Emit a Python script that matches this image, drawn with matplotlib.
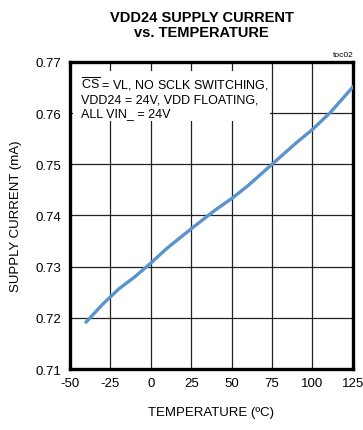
import matplotlib
matplotlib.use("Agg")
import matplotlib.pyplot as plt
from matplotlib.patches import Rectangle

plt.rcParams['font.family'] = ['Liberation Sans', 'DejaVu Sans']
plt.rcParams['mathtext.fontset'] = 'custom'
plt.rcParams['mathtext.rm'] = 'Liberation Sans'

temperature = [-40, -30, -20, -10, 0, 10, 25, 40, 50, 60, 75, 90, 100, 111, 125]
current = [0.7192, 0.7226, 0.7256, 0.7280, 0.7307, 0.7336, 0.7374, 0.7411, 0.7433, 0.7458, 0.7500, 0.7542, 0.7568, 0.7601, 0.7651]

x_ticks = [-50, -25, 0, 25, 50, 75, 100, 125]
y_ticks = [0.71, 0.72, 0.73, 0.74, 0.75, 0.76, 0.77]

fig = plt.figure(figsize=(3.63, 4.31), dpi=100)
ax = fig.add_axes([0.193, 0.1415, 0.779, 0.7125])

ax.plot(temperature, current, color='#5b93cc', linewidth=2.4, zorder=4)
ax.set_xlim(-50, 125)
ax.set_ylim(0.71, 0.77)
ax.set_xticks(x_ticks)
ax.set_yticks(y_ticks)
ax.set_xticklabels([str(t) for t in x_ticks])
ax.set_yticklabels(['%.2f' % v for v in y_ticks])
ax.grid(True, color='#222222', linewidth=0.9)
ax.set_axisbelow(True)
ax.tick_params(length=0, labelsize=9.5, pad=6)
for s in ax.spines.values():
    s.set_linewidth(2.4)

ax.add_patch(Rectangle((-48, 0.7584), 122, 0.0098, facecolor='white',
                       edgecolor='none', zorder=2))
ax.text(-43, 0.7675, r'$\overline{\rm CS}$' + ' = VL, NO SCLK SWITCHING,\nVDD24 = 24V, VDD FLOATING,\nALL VIN_ = 24V',
        fontsize=9, va='top', ha='left', linespacing=1.2, zorder=3)

ax.set_xlabel('TEMPERATURE (ºC)', fontsize=9.5, labelpad=12)
ax.set_ylabel('SUPPLY CURRENT (mA)', fontsize=9.5, labelpad=10)
fig.text(0.555, 0.975, 'VDD24 SUPPLY CURRENT\nvs. TEMPERATURE', ha='center', va='top',
         fontsize=10.5, fontweight='bold', linespacing=1.15)
fig.text(0.975, 0.862, 'toc02', ha='right', va='bottom', fontsize=6)

fig.savefig('out.png', dpi=100)
